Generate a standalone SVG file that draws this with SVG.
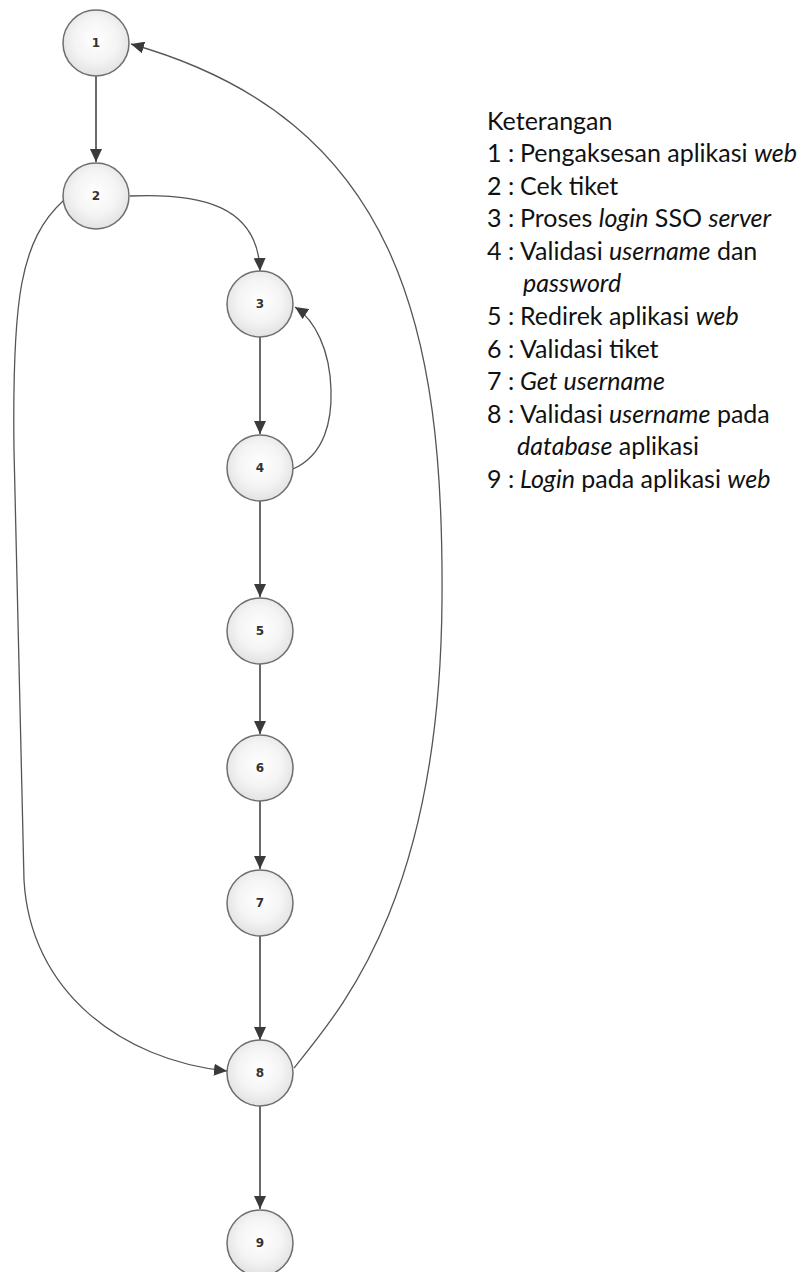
<svg xmlns="http://www.w3.org/2000/svg" width="801" height="1272" viewBox="0 0 801 1272">
  <style>
    .node circle { fill: url(#nodeFill); stroke: #6e6e6e; stroke-width: 1.5; }
    .node text { font-family: "DejaVu Sans", Verdana, sans-serif; font-size: 12px; font-weight: bold; fill: #333; text-anchor: middle; dominant-baseline: central; }
    .edge { fill: none; stroke: #6a6a6a; stroke-width: 2; marker-end: url(#arrow); }
    .curve { fill: none; stroke: #555; stroke-width: 1.3; marker-end: url(#arrow); }
    .legend { font-family: Lato, "Liberation Sans", sans-serif; font-size: 25px; fill: #111; }
    .it { font-style: italic; }
  </style>
  <defs>
    <radialGradient id="nodeFill" cx="50%" cy="45%" r="55%">
      <stop offset="0" stop-color="#ffffff"/>
      <stop offset="0.6" stop-color="#f4f4f4"/>
      <stop offset="1" stop-color="#e2e2e2"/>
    </radialGradient>
    <marker id="arrow" markerUnits="userSpaceOnUse" markerWidth="14" markerHeight="12" refX="13" refY="6" orient="auto">
      <path d="M0,0 L13,6 L0,12 z" fill="#3a3a3a"/>
    </marker>
  </defs>

  <!-- connectors -->
  <g id="connectors">
    <path class="edge" d="M96,76 L96,162"/>
    <path class="curve" d="M130,196 C200,193 258,205 260,271"/>
    <path class="edge" d="M260,337 L260,434"/>
    <path class="curve" d="M293,469 C325,455 332,420 331,390 C330,350 315,320 295,307"/>
    <path class="edge" d="M260,501 L260,597"/>
    <path class="edge" d="M260,664 L260,734"/>
    <path class="edge" d="M260,801 L260,869"/>
    <path class="edge" d="M260,936 L260,1040"/>
    <path class="edge" d="M260,1106 L260,1209"/>
    <path class="curve" d="M64,200 C20,240 12,300 14,450 L24,880 C30,990 120,1060 227,1071"/>
    <path class="curve" d="M294,1068 C340,1010 440,900 442,600 C444,330 400,120 131,44"/>
  </g>

  <!-- nodes -->
  <g id="node1" class="node"><circle cx="96" cy="43" r="33"/><text x="96" y="43">1</text></g>
  <g id="node2" class="node"><circle cx="96" cy="196" r="33"/><text x="96" y="196">2</text></g>
  <g id="node3" class="node"><circle cx="260" cy="304" r="33"/><text x="260" y="304">3</text></g>
  <g id="node4" class="node"><circle cx="260" cy="468" r="33"/><text x="260" y="468">4</text></g>
  <g id="node5" class="node"><circle cx="260" cy="631" r="33"/><text x="260" y="631">5</text></g>
  <g id="node6" class="node"><circle cx="260" cy="768" r="33"/><text x="260" y="768">6</text></g>
  <g id="node7" class="node"><circle cx="260" cy="903" r="33"/><text x="260" y="903">7</text></g>
  <g id="node8" class="node"><circle cx="260" cy="1073" r="33"/><text x="260" y="1073">8</text></g>
  <g id="node9" class="node"><circle cx="260" cy="1243" r="33"/><text x="260" y="1243">9</text></g>

  <!-- legend -->
  <g id="legend" class="legend">
    <text x="487" y="130">Keterangan</text>
    <text x="487" y="162">1 :<tspan x="520">Pengaksesan aplikasi </tspan><tspan class="it">web</tspan></text>
    <text x="487" y="195">2 :<tspan x="520">Cek tiket</tspan></text>
    <text x="487" y="227">3 :<tspan x="520">Proses </tspan><tspan class="it">login</tspan> SSO <tspan class="it">server</tspan></text>
    <text x="487" y="260">4 :<tspan x="520">Validasi </tspan><tspan class="it">username</tspan> dan</text>
    <text x="523" y="292" class="it">password</text>
    <text x="487" y="325">5 :<tspan x="520">Redirek aplikasi </tspan><tspan class="it">web</tspan></text>
    <text x="487" y="358">6 :<tspan x="520">Validasi tiket</tspan></text>
    <text x="487" y="390">7 :<tspan x="520" class="it">Get username</tspan></text>
    <text x="487" y="423">8 :<tspan x="520">Validasi </tspan><tspan class="it">username</tspan> pada</text>
    <text x="517" y="455"><tspan class="it">database</tspan> aplikasi</text>
    <text x="487" y="488">9 :<tspan x="520" class="it">Login</tspan> pada aplikasi <tspan class="it">web</tspan></text>
  </g>
</svg>
